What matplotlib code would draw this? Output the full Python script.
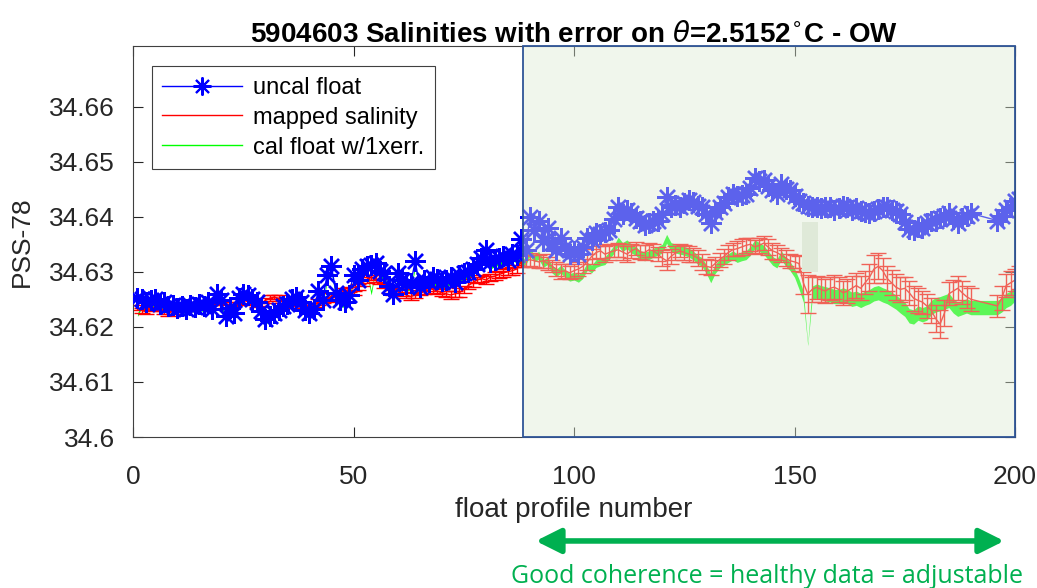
import numpy as np
import matplotlib.pyplot as plt
from matplotlib.patches import Rectangle, FancyArrowPatch
from matplotlib.lines import Line2D

# float profile numbers (gap between 190 and 196)
profile = list(range(1, 191)) + list(range(196, 202))

# uncalibrated float salinity (blue asterisks)
uncal = [
    34.6252, 34.6250, 34.6245, 34.6248, 34.6250, 34.6242, 34.6245, 34.6238, 34.6240, 34.6235,
    34.6238, 34.6232, 34.6240, 34.6236, 34.6242, 34.6238, 34.6245, 34.6232, 34.6260, 34.6248,
    34.6220, 34.6235, 34.6225, 34.6252, 34.6260, 34.6258, 34.6250, 34.6245, 34.6228, 34.6215,
    34.6220, 34.6225, 34.6230, 34.6238, 34.6242, 34.6250, 34.6255, 34.6245, 34.6230, 34.6225,
    34.6232, 34.6265, 34.6248, 34.6295, 34.6310, 34.6262, 34.6248, 34.6245, 34.6258, 34.6295,
    34.6285, 34.6305, 34.6310, 34.6312, 34.6316, 34.6302, 34.6298, 34.6275, 34.6260, 34.6298,
    34.6285, 34.6278, 34.6280, 34.6320, 34.6272, 34.6285, 34.6282, 34.6290, 34.6286, 34.6283,
    34.6285, 34.6290, 34.6282, 34.6295, 34.6298, 34.6300, 34.6305, 34.6315, 34.6325, 34.6340,
    34.6318, 34.6322, 34.6325, 34.6328, 34.6322, 34.6333, 34.6330, 34.6360, 34.6340, 34.6400,
    34.6375, 34.6393, 34.6355, 34.6380, 34.6352, 34.6340, 34.6362, 34.6345, 34.6333, 34.6338,
    34.6333, 34.6345, 34.6362, 34.6358, 34.6370, 34.6368, 34.6372, 34.6375, 34.6395, 34.6417,
    34.6405, 34.6412, 34.6406, 34.6398, 34.6392, 34.6385, 34.6388, 34.6392, 34.6393, 34.6405,
    34.6435, 34.6417, 34.6422, 34.6418, 34.6425, 34.6430, 34.6426, 34.6420, 34.6417, 34.6405,
    34.6388, 34.6408, 34.6417, 34.6425, 34.6435, 34.6442, 34.6438, 34.6440, 34.6442, 34.6452,
    34.6471, 34.6465, 34.6466, 34.6455, 34.6448, 34.6442, 34.6460, 34.6450, 34.6448, 34.6438,
    34.6428, 34.6424, 34.6420, 34.6417, 34.6418, 34.6415, 34.6418, 34.6417, 34.6412, 34.6415,
    34.6420, 34.6417, 34.6412, 34.6416, 34.6411, 34.6408, 34.6406, 34.6410, 34.6414, 34.6417,
    34.6417, 34.6413, 34.6411, 34.6405, 34.6390, 34.6378, 34.6375, 34.6382, 34.6380, 34.6388,
    34.6392, 34.6393, 34.6398, 34.6402, 34.6406, 34.6395, 34.6388, 34.6398, 34.6402, 34.6406,
    34.6393, 34.6402, 34.6412, 34.6417, 34.6428, 34.6432,
]

# mapped (climatology) salinity and its error
mapped = [
    34.6235, 34.6230, 34.6228, 34.6232, 34.6236, 34.6232, 34.6228, 34.6225, 34.6228, 34.6232,
    34.6236, 34.6234, 34.6238, 34.6236, 34.6240, 34.6238, 34.6242, 34.6244, 34.6246, 34.6243,
    34.6240, 34.6238, 34.6242, 34.6245, 34.6248, 34.6246, 34.6244, 34.6240, 34.6242, 34.6248,
    34.6252, 34.6254, 34.6252, 34.6248, 34.6245, 34.6242, 34.6238, 34.6236, 34.6238, 34.6236,
    34.6240, 34.6245, 34.6248, 34.6250, 34.6256, 34.6258, 34.6262, 34.6265, 34.6268, 34.6262,
    34.6272, 34.6280, 34.6285, 34.6290, 34.6288, 34.6282, 34.6275, 34.6268, 34.6262, 34.6265,
    34.6262, 34.6258, 34.6255, 34.6258, 34.6262, 34.6265, 34.6270, 34.6268, 34.6265, 34.6262,
    34.6260, 34.6258, 34.6260, 34.6262, 34.6268, 34.6275, 34.6280, 34.6285, 34.6288, 34.6285,
    34.6290, 34.6292, 34.6295, 34.6298, 34.6300, 34.6302, 34.6305, 34.6318, 34.6320, 34.6322,
    34.6320, 34.6318, 34.6320, 34.6315, 34.6310, 34.6305, 34.6300, 34.6302, 34.6298, 34.6302,
    34.6305, 34.6310, 34.6318, 34.6328, 34.6335, 34.6338, 34.6332, 34.6335, 34.6338, 34.6340,
    34.6336, 34.6332, 34.6338, 34.6342, 34.6336, 34.6335, 34.6340, 34.6338, 34.6332, 34.6325,
    34.6320, 34.6328, 34.6334, 34.6338, 34.6335, 34.6332, 34.6330, 34.6325, 34.6318, 34.6310,
    34.6308, 34.6315, 34.6322, 34.6328, 34.6335, 34.6340, 34.6342, 34.6345, 34.6348, 34.6350,
    34.6345, 34.6348, 34.6352, 34.6345, 34.6338, 34.6335, 34.6330, 34.6325, 34.6320, 34.6318,
    34.6315, 34.6280, 34.6260, 34.6268, 34.6272, 34.6268, 34.6265, 34.6270, 34.6272, 34.6268,
    34.6262, 34.6265, 34.6270, 34.6275, 34.6270, 34.6280, 34.6290, 34.6305, 34.6310, 34.6302,
    34.6288, 34.6280, 34.6272, 34.6268, 34.6270, 34.6262, 34.6252, 34.6248, 34.6245, 34.6238,
    34.6230, 34.6215, 34.6205, 34.6225, 34.6260, 34.6265, 34.6270, 34.6262, 34.6255, 34.6250,
    34.6238, 34.6252, 34.6275, 34.6280, 34.6285, 34.6290,
]
mapped_err = [
    0.0004, 0.0005, 0.0004, 0.0004, 0.0005, 0.0004, 0.0004, 0.0005, 0.0004, 0.0004,
    0.0004, 0.0005, 0.0004, 0.0004, 0.0005, 0.0004, 0.0005, 0.0005, 0.0004, 0.0004,
    0.0005, 0.0004, 0.0004, 0.0005, 0.0004, 0.0004, 0.0005, 0.0004, 0.0004, 0.0005,
    0.0005, 0.0004, 0.0005, 0.0004, 0.0004, 0.0005, 0.0004, 0.0004, 0.0005, 0.0004,
    0.0004, 0.0005, 0.0005, 0.0004, 0.0005, 0.0004, 0.0005, 0.0006, 0.0005, 0.0004,
    0.0005, 0.0006, 0.0005, 0.0005, 0.0006, 0.0005, 0.0005, 0.0006, 0.0005, 0.0005,
    0.0006, 0.0005, 0.0006, 0.0005, 0.0005, 0.0006, 0.0005, 0.0006, 0.0005, 0.0006,
    0.0006, 0.0007, 0.0006, 0.0008, 0.0007, 0.0006, 0.0007, 0.0006, 0.0006, 0.0007,
    0.0006, 0.0007, 0.0006, 0.0007, 0.0006, 0.0007, 0.0007, 0.0010, 0.0011, 0.0012,
    0.0011, 0.0012, 0.0013, 0.0012, 0.0011, 0.0013, 0.0014, 0.0013, 0.0012, 0.0013,
    0.0012, 0.0013, 0.0014, 0.0013, 0.0012, 0.0013, 0.0014, 0.0013, 0.0012, 0.0013,
    0.0014, 0.0015, 0.0013, 0.0012, 0.0013, 0.0014, 0.0013, 0.0012, 0.0013, 0.0014,
    0.0016, 0.0014, 0.0013, 0.0012, 0.0013, 0.0014, 0.0013, 0.0014, 0.0015, 0.0014,
    0.0013, 0.0012, 0.0013, 0.0014, 0.0013, 0.0012, 0.0013, 0.0014, 0.0013, 0.0012,
    0.0013, 0.0014, 0.0013, 0.0014, 0.0015, 0.0014, 0.0013, 0.0014, 0.0013, 0.0012,
    0.0013, 0.0020, 0.0035, 0.0022, 0.0021, 0.0023, 0.0022, 0.0021, 0.0022, 0.0023,
    0.0022, 0.0021, 0.0022, 0.0023, 0.0022, 0.0021, 0.0024, 0.0025, 0.0024, 0.0023,
    0.0022, 0.0023, 0.0024, 0.0022, 0.0021, 0.0022, 0.0023, 0.0022, 0.0021, 0.0022,
    0.0023, 0.0024, 0.0025, 0.0023, 0.0021, 0.0020, 0.0022, 0.0021, 0.0020, 0.0021,
    0.0020, 0.0022, 0.0021, 0.0022, 0.0020, 0.0021,
]

# calibrated float salinity and its 1x error band
cal = [
    34.6222, 34.6238, 34.6235, 34.6238, 34.6240, 34.6235, 34.6236, 34.6230, 34.6232, 34.6228,
    34.6230, 34.6226, 34.6232, 34.6229, 34.6234, 34.6230, 34.6237, 34.6225, 34.6250, 34.6240,
    34.6214, 34.6228, 34.6218, 34.6244, 34.6252, 34.6250, 34.6242, 34.6238, 34.6221, 34.6208,
    34.6213, 34.6218, 34.6223, 34.6231, 34.6235, 34.6243, 34.6248, 34.6238, 34.6223, 34.6218,
    34.6225, 34.6257, 34.6240, 34.6286, 34.6301, 34.6254, 34.6240, 34.6238, 34.6250, 34.6286,
    34.6277, 34.6296, 34.6300, 34.6262, 34.6306, 34.6293, 34.6289, 34.6266, 34.6251, 34.6289,
    34.6276, 34.6269, 34.6271, 34.6311, 34.6263, 34.6276, 34.6273, 34.6281, 34.6277, 34.6274,
    34.6276, 34.6281, 34.6273, 34.6286, 34.6289, 34.6291, 34.6296, 34.6306, 34.6316, 34.6331,
    34.6309, 34.6313, 34.6316, 34.6319, 34.6313, 34.6324, 34.6320, 34.6320, 34.6318, 34.6335,
    34.6325, 34.6330, 34.6315, 34.6320, 34.6305, 34.6298, 34.6305, 34.6296, 34.6290, 34.6292,
    34.6288, 34.6295, 34.6310, 34.6305, 34.6315, 34.6318, 34.6320, 34.6330, 34.6340, 34.6355,
    34.6345, 34.6350, 34.6342, 34.6338, 34.6330, 34.6328, 34.6330, 34.6335, 34.6338, 34.6342,
    34.6360, 34.6345, 34.6342, 34.6340, 34.6338, 34.6335, 34.6330, 34.6322, 34.6318, 34.6305,
    34.6288, 34.6305, 34.6315, 34.6320, 34.6325, 34.6330, 34.6325, 34.6328, 34.6330, 34.6338,
    34.6350, 34.6345, 34.6340, 34.6330, 34.6320, 34.6315, 34.6330, 34.6318, 34.6310, 34.6298,
    34.6278, 34.6255, 34.6168, 34.6262, 34.6265, 34.6262, 34.6260, 34.6258, 34.6255, 34.6255,
    34.6258, 34.6255, 34.6250, 34.6252, 34.6248, 34.6252, 34.6255, 34.6260, 34.6262, 34.6258,
    34.6255, 34.6250, 34.6245, 34.6238, 34.6232, 34.6220, 34.6218, 34.6225, 34.6222, 34.6225,
    34.6235, 34.6240, 34.6242, 34.6245, 34.6248, 34.6238, 34.6232, 34.6235, 34.6238, 34.6235,
    34.6235, 34.6240, 34.6248, 34.6252, 34.6260, 34.6262,
]
cal_err = [
    0.0003, 0.0003, 0.0003, 0.0003, 0.0003, 0.0003, 0.0003, 0.0003, 0.0003, 0.0003,
    0.0003, 0.0003, 0.0003, 0.0003, 0.0003, 0.0003, 0.0003, 0.0003, 0.0003, 0.0003,
    0.0003, 0.0003, 0.0003, 0.0003, 0.0003, 0.0003, 0.0003, 0.0003, 0.0003, 0.0003,
    0.0003, 0.0003, 0.0003, 0.0003, 0.0003, 0.0003, 0.0003, 0.0003, 0.0003, 0.0003,
    0.0003, 0.0003, 0.0003, 0.0004, 0.0004, 0.0004, 0.0003, 0.0003, 0.0004, 0.0004,
    0.0004, 0.0004, 0.0004, 0.0004, 0.0004, 0.0004, 0.0004, 0.0004, 0.0004, 0.0004,
    0.0004, 0.0004, 0.0004, 0.0004, 0.0004, 0.0004, 0.0004, 0.0004, 0.0004, 0.0004,
    0.0004, 0.0004, 0.0004, 0.0004, 0.0004, 0.0004, 0.0004, 0.0004, 0.0004, 0.0004,
    0.0004, 0.0004, 0.0004, 0.0004, 0.0004, 0.0004, 0.0004, 0.0006, 0.0006, 0.0007,
    0.0007, 0.0007, 0.0007, 0.0007, 0.0007, 0.0007, 0.0007, 0.0007, 0.0007, 0.0007,
    0.0007, 0.0007, 0.0007, 0.0007, 0.0007, 0.0007, 0.0007, 0.0007, 0.0007, 0.0008,
    0.0008, 0.0008, 0.0008, 0.0008, 0.0008, 0.0008, 0.0008, 0.0008, 0.0008, 0.0008,
    0.0008, 0.0008, 0.0008, 0.0008, 0.0008, 0.0008, 0.0008, 0.0008, 0.0008, 0.0008,
    0.0008, 0.0008, 0.0008, 0.0008, 0.0008, 0.0008, 0.0008, 0.0008, 0.0008, 0.0008,
    0.0008, 0.0008, 0.0008, 0.0008, 0.0008, 0.0008, 0.0008, 0.0008, 0.0008, 0.0008,
    0.0009, 0.0010, 0.0002, 0.0012, 0.0013, 0.0013, 0.0013, 0.0013, 0.0013, 0.0013,
    0.0013, 0.0013, 0.0013, 0.0013, 0.0013, 0.0013, 0.0013, 0.0013, 0.0013, 0.0013,
    0.0013, 0.0013, 0.0013, 0.0013, 0.0013, 0.0013, 0.0013, 0.0013, 0.0013, 0.0013,
    0.0013, 0.0013, 0.0013, 0.0013, 0.0013, 0.0013, 0.0013, 0.0013, 0.0013, 0.0013,
    0.0013, 0.0013, 0.0013, 0.0013, 0.0013, 0.0013,
]

yticks = [34.6, 34.61, 34.62, 34.63, 34.64, 34.65, 34.66]
ytick_labels = ['34.6', '34.61', '34.62', '34.63', '34.64', '34.65', '34.66']
xticks = [0, 50, 100, 150, 200]

# highlighted window (start profile) and annotation
box_start = 88.4
note = 'Good coherence = healthy data = adjustable'

txt = '#262626'
plt.rcParams['font.family'] = ['Liberation Sans', 'DejaVu Sans']

fig = plt.figure(figsize=(10.37, 5.88), dpi=100)
ax = fig.add_axes([0.1283, 0.2568, 0.8505, 0.6650])

cal_a = np.array(cal)
cal_e = np.array(cal_err)
ax.fill_between(profile, cal_a - cal_e, cal_a + cal_e, color='#00ff00', lw=0, zorder=1)
ax.errorbar(profile, mapped, yerr=mapped_err, color='red', lw=1, elinewidth=1,
            capsize=5.5, capthick=1, zorder=2)
ax.plot(profile, uncal, color='blue', lw=1, marker=(8, 2, 0), ms=15, mew=1.7, zorder=3)

ax.set_xlim(0, 200)
ax.set_ylim(34.6, 34.671)
ax.set_xticks(xticks)
ax.set_yticks(yticks)
ax.set_yticklabels(ytick_labels)
ax.tick_params(direction='in', length=7, width=0.8, color=txt, labelcolor=txt,
               labelsize=19, top=True, right=True)
ax.tick_params(axis='y', pad=13)
ax.tick_params(axis='x', pad=20)
for s in ax.spines.values():
    s.set_color('#404040')
    s.set_linewidth(0.8)

ax.set_xlabel('float profile number', fontsize=20, color=txt, labelpad=6)
ax.set_ylabel('PSS-78', fontsize=19, color=txt, labelpad=11)
ax.set_title(r'5904603 Salinities with error on $\theta$=2.5152$^{\circ}$C - OW',
             fontsize=20, fontweight='bold', pad=3)

# legend with MATLAB-like entries
handles = [
    Line2D([], [], color='blue', lw=1, marker=(8, 2, 0), ms=13, mew=1.5),
    Line2D([], [], color='red', lw=1),
    Line2D([], [], color='#00ff00', lw=1),
]
leg = ax.legend(handles, ['uncal float', 'mapped salinity', 'cal float w/1xerr.'],
                loc='upper left', bbox_to_anchor=(0.021, 0.948), fontsize=17,
                frameon=True, fancybox=False, edgecolor='#404040', framealpha=1,
                handlelength=3.4, borderpad=0.45, labelspacing=0.33, handletextpad=0.45,
                borderaxespad=0)
leg.get_frame().set_linewidth(0.8)
for t in leg.get_texts():
    t.set_color('black')

# translucent green highlight box over the adjustable part
ax.add_patch(Rectangle((box_start, 34.6), 200 - box_start, 0.071, facecolor='#dcead2',
                       edgecolor='none', alpha=0.42, zorder=4))
ax.add_patch(Rectangle((box_start, 34.6), 200 - box_start, 0.071, fill=False,
                       edgecolor='#2f5597', lw=1.3, zorder=6, clip_on=False))
ax.add_patch(Rectangle((151.7, 34.630), 3.6, 0.009, facecolor='#dfe9d8',
                       edgecolor='none', zorder=5))

# annotation below the axes
arrow = FancyArrowPatch((0.514, 0.080), (0.971, 0.080), transform=fig.transFigure,
                        arrowstyle='<|-|>,head_length=15,head_width=7.5', color='#00b050',
                        lw=4, mutation_scale=1)
fig.patches.append(arrow)
fig.text(0.740, 0.020, note, color='#00b050', fontsize=18, family='Open Sans',
         ha='center', va='center')

fig.savefig('out.png', dpi=100)
